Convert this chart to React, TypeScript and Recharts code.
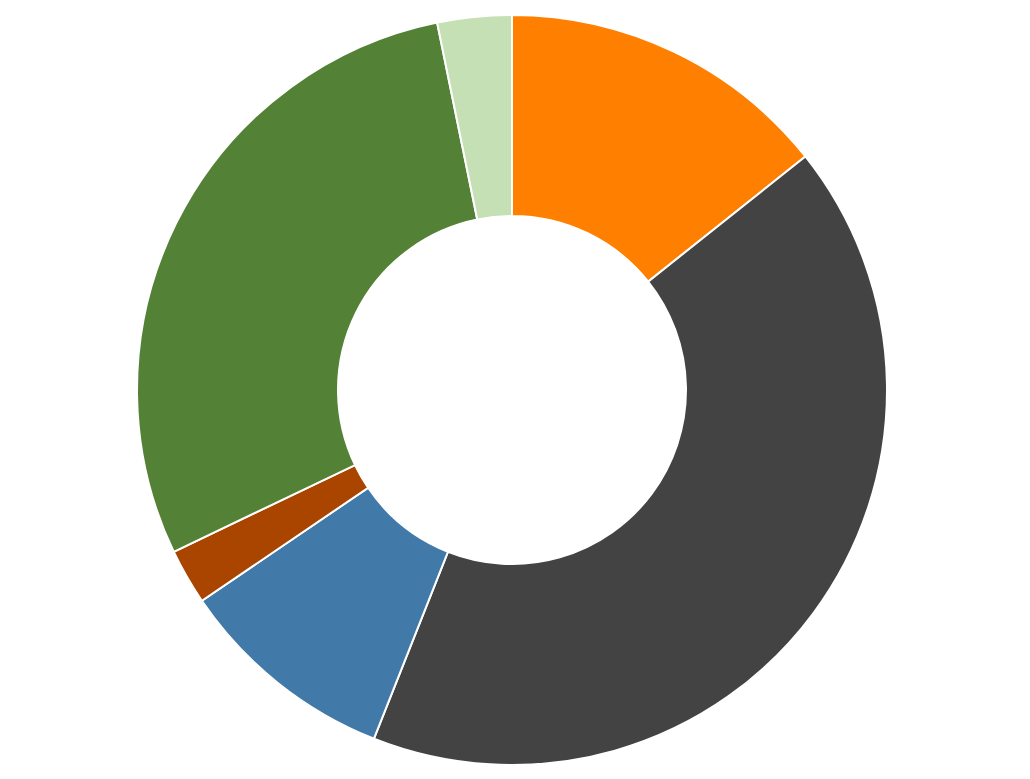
import { PieChart, Pie, Cell } from 'recharts'

const categories = ['A', 'B', 'C', 'D', 'E', 'F']
const values = [14.3, 41.7, 9.5, 2.4, 28.9, 3.2]
const colors = ['#ff7f00', '#434343', '#4179a9', '#aa4500', '#538135', '#c5e0b4']

const chartData = categories.map((name, i) => ({ name, value: values[i] }))

export default function App() {
  return (
    <div style={{ position: 'absolute', left: 0, top: 0, width: 1030, height: 779, background: '#fff' }}>
      <PieChart width={1030} height={779} margin={{ top: 0, right: 0, bottom: 0, left: 0 }}>
        <Pie
          data={chartData}
          dataKey="value"
          cx={512}
          cy={390}
          innerRadius={174}
          outerRadius={375}
          startAngle={90}
          endAngle={-270}
          stroke="#ffffff"
          strokeWidth={2}
          isAnimationActive={false}
        >
          {chartData.map((entry, index) => (
            <Cell key={`cell-${index}`} fill={colors[index]} />
          ))}
        </Pie>
      </PieChart>
    </div>
  )
}
